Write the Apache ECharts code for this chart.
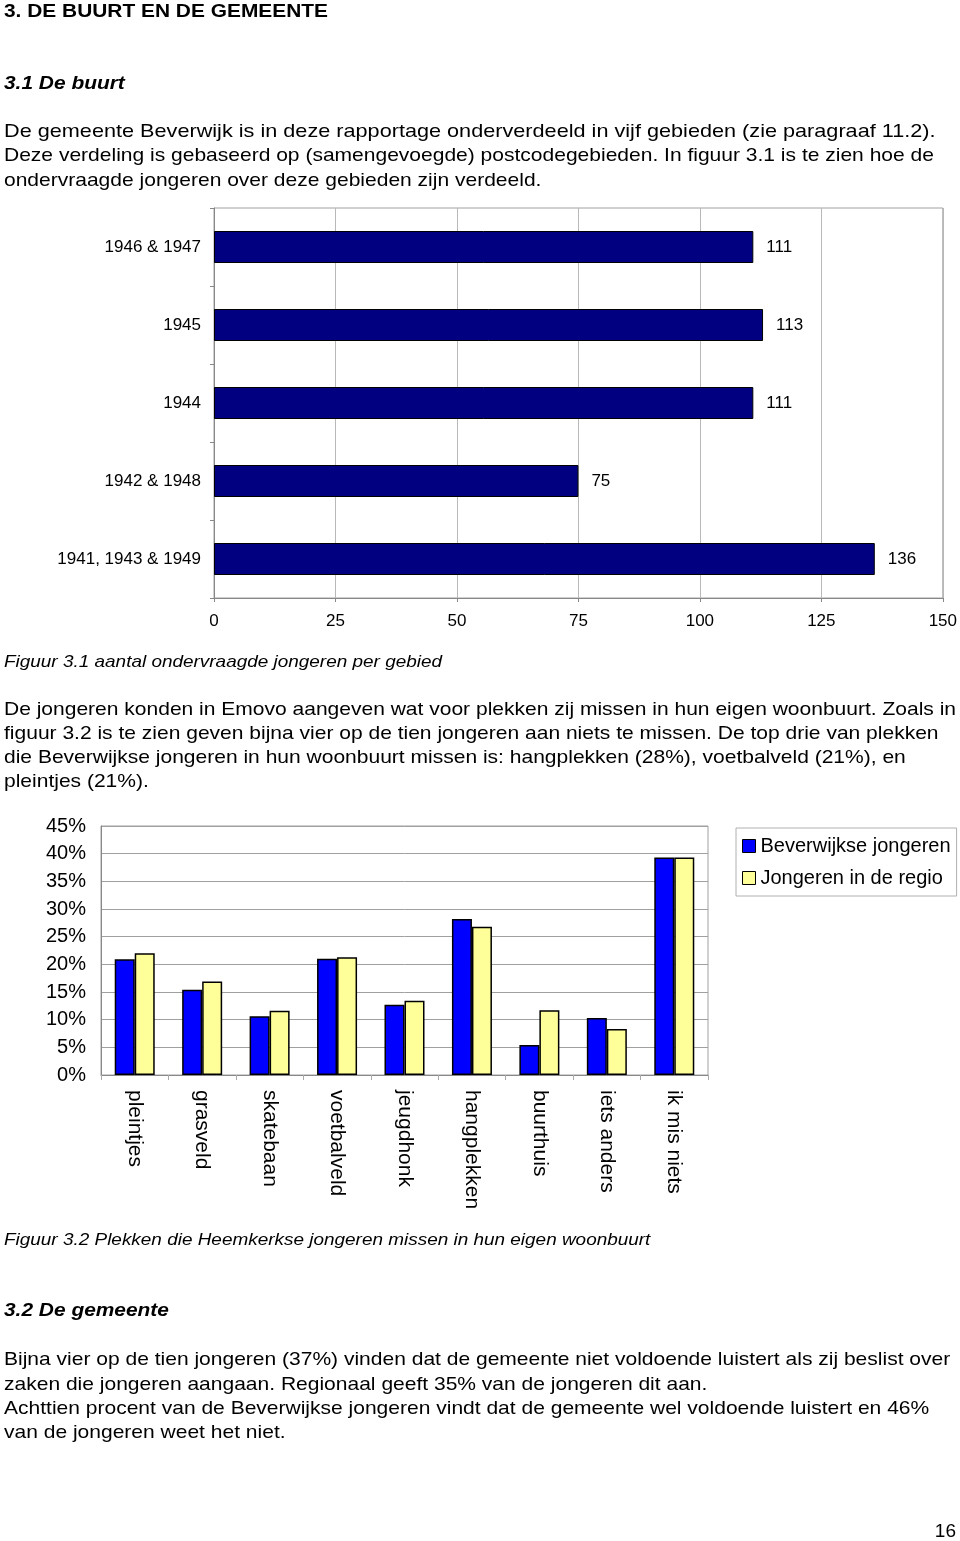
<!DOCTYPE html>
<html>
<head>
<meta charset="utf-8">
<script src="https://cdn.jsdelivr.net/npm/echarts@6/dist/echarts.min.js"></script>
<style>
html,body{margin:0;padding:0;background:#fff;}
#page{width:960px;height:1541px;}
</style>
</head>
<body>
<div id="page"></div>
<script>
// Figure 3.1 data
const areaCategories = ['1946 & 1947', '1945', '1944', '1942 & 1948', '1941, 1943 & 1949'];
const areaCounts = [111, 113, 111, 75, 136];
const countTicks = [0, 25, 50, 75, 100, 125, 150];

// Figure 3.2 data
const placeCategories = ['pleintjes', 'grasveld', 'skatebaan', 'voetbalveld', 'jeugdhonk', 'hangplekken', 'buurthuis', 'iets anders', 'ik mis niets'];
const beverwijkValues = [20.9, 15.4, 10.6, 21.0, 12.7, 28.2, 5.4, 10.3, 39.3];
const regioValues = [22.0, 16.9, 11.6, 21.3, 13.4, 26.8, 11.7, 8.3, 39.3];
const seriesNames = ['Beverwijkse jongeren', 'Jongeren in de regio'];

const FONT = '"Liberation Sans", Arial, Helvetica, sans-serif';

const textBlocks = [
  {t: '3. DE BUURT EN DE GEMEENTE', y: 12, f: 'bold 19px', s: 1.10},
  {t: '3.1 De buurt', y: 84, f: 'italic bold 19px', s: 1.10},
  {t: 'De gemeente Beverwijk is in deze rapportage onderverdeeld in vijf gebieden (zie paragraaf 11.2).', y: 132, f: '19px', s: 1.14},
  {t: 'Deze verdeling is gebaseerd op (samengevoegde) postcodegebieden. In figuur 3.1 is te zien hoe de', y: 156, f: '19px', s: 1.106},
  {t: 'ondervraagde jongeren over deze gebieden zijn verdeeld.', y: 181, f: '19px', s: 1.106},
  {t: 'Figuur 3.1 aantal ondervraagde jongeren per gebied', y: 662, f: 'italic 17px', s: 1.114},
  {t: 'De jongeren konden in Emovo aangeven wat voor plekken zij missen in hun eigen woonbuurt. Zoals in', y: 710, f: '19px', s: 1.106},
  {t: 'figuur 3.2 is te zien geven bijna vier op de tien jongeren aan niets te missen. De top drie van plekken', y: 734, f: '19px', s: 1.106},
  {t: 'die Beverwijkse jongeren in hun woonbuurt missen is: hangplekken (28%), voetbalveld (21%), en', y: 758, f: '19px', s: 1.106},
  {t: 'pleintjes (21%).', y: 782, f: '19px', s: 1.106},
  {t: 'Figuur 3.2 Plekken die Heemkerkse jongeren missen in hun eigen woonbuurt', y: 1240, f: 'italic 17px', s: 1.114},
  {t: '3.2 De gemeente', y: 1311, f: 'italic bold 19px', s: 1.10},
  {t: 'Bijna vier op de tien jongeren (37%) vinden dat de gemeente niet voldoende luistert als zij beslist over', y: 1360, f: '19px', s: 1.106},
  {t: 'zaken die jongeren aangaan. Regionaal geeft 35% van de jongeren dit aan.', y: 1385, f: '19px', s: 1.106},
  {t: 'Achttien procent van de Beverwijkse jongeren vindt dat de gemeente wel voldoende luistert en 46%', y: 1409, f: '19px', s: 1.106},
  {t: 'van de jongeren weet het niet.', y: 1433, f: '19px', s: 1.106}
];

const graphics = textBlocks.map(b => ({
  type: 'text', x: 4, y: b.y, scaleX: b.s, scaleY: 1,
  style: {text: b.t, font: b.f + ' ' + FONT, fill: '#000', verticalAlign: 'middle', textVerticalAlign: 'middle'}
}));
graphics.push({type: 'text', x: 956, y: 1532,
  style: {text: '16', font: '19px ' + FONT, fill: '#000', align: 'right', textAlign: 'right', verticalAlign: 'middle', textVerticalAlign: 'middle'}});

const chart = echarts.init(document.getElementById('page'), null, {renderer: 'canvas'});
chart.setOption({
  animation: false,
  backgroundColor: '#fff',
  textStyle: {fontFamily: FONT},
  grid: [
    {left: 214, top: 208, width: 729, height: 390, show: true, borderColor: '#a0a0a0', borderWidth: 1, backgroundColor: 'transparent'},
    {left: 101, top: 826, width: 607, height: 249, show: true, borderColor: '#a0a0a0', borderWidth: 1, backgroundColor: 'transparent'}
  ],
  legend: {
    orient: 'vertical', left: 736, top: 828,
    itemWidth: 13, itemHeight: 13, itemGap: 12,
    padding: [8, 6, 8, 6],
    borderColor: '#b0b0b0', borderWidth: 1,
    textStyle: {fontSize: 20, color: '#000', fontFamily: FONT, padding: [0, 0, 0, 0]},
    icon: 'rect',
    itemStyle: {borderColor: '#000', borderWidth: 1},
    data: seriesNames
  },
  xAxis: [
    {gridIndex: 0, type: 'value', min: 0, max: 150, interval: 25,
      axisLine: {show: true, lineStyle: {color: '#888'}},
      axisTick: {show: true, length: 4, lineStyle: {color: '#888'}},
      axisLabel: {fontSize: 17, color: '#000', margin: 15, fontFamily: FONT,
        formatter: v => countTicks.indexOf(v) >= 0 ? String(v) : ''},
      splitLine: {show: true, lineStyle: {color: '#b8b8b8', width: 1}}},
    {gridIndex: 1, type: 'category', data: placeCategories,
      axisLine: {show: true, lineStyle: {color: '#888'}},
      axisTick: {show: true, length: 5, lineStyle: {color: '#aaa'}},
      axisLabel: {fontSize: 21, color: '#000', rotate: -90, margin: 15, fontFamily: FONT},
      splitLine: {show: false}}
  ],
  yAxis: [
    {gridIndex: 0, type: 'category', data: areaCategories, inverse: true,
      axisLine: {show: true, lineStyle: {color: '#888'}},
      axisTick: {show: true, length: 4, lineStyle: {color: '#888'}},
      axisLabel: {fontSize: 17, color: '#000', margin: 13, fontFamily: FONT}},
    {gridIndex: 1, type: 'value', min: 0, max: 45, interval: 5,
      axisLine: {show: true, lineStyle: {color: '#888'}},
      axisTick: {show: false},
      axisLabel: {fontSize: 20, color: '#000', margin: 15, fontFamily: FONT, formatter: '{value}%'},
      splitLine: {show: true, lineStyle: {color: '#a0a0a0', width: 1}}}
  ],
  series: [
    {type: 'bar', xAxisIndex: 0, yAxisIndex: 0, data: areaCounts, barWidth: 32,
      itemStyle: {color: '#000080', borderColor: '#000', borderWidth: 1},
      label: {show: true, position: 'right', distance: 13, fontSize: 17, color: '#000', fontFamily: FONT}},
    {name: seriesNames[0], type: 'bar', xAxisIndex: 1, yAxisIndex: 1, data: beverwijkValues, barWidth: 20, barGap: '0%',
      itemStyle: {color: '#0000ff', borderColor: '#000', borderWidth: 1.5}},
    {name: seriesNames[1], type: 'bar', xAxisIndex: 1, yAxisIndex: 1, data: regioValues, barWidth: 20, barGap: '0%',
      itemStyle: {color: '#ffff99', borderColor: '#000', borderWidth: 1.5}}
  ],
  graphic: graphics
});
</script>
</body>
</html>
